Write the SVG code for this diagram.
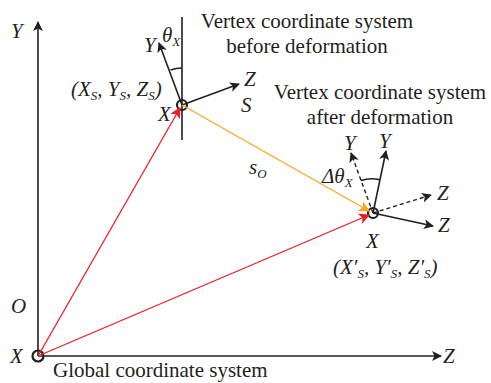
<svg xmlns="http://www.w3.org/2000/svg" width="491" height="383" viewBox="0 0 491 383">
<style>
text{font-family:"Liberation Serif","Times New Roman",serif;fill:#231f20}
.t{font-size:21px}
.i{font-style:italic;font-size:21px}
.s{font-size:13px;font-style:italic}
.ax{stroke:#231f20;stroke-width:1.6;fill:none}
.da{stroke:#231f20;stroke-width:1.4;fill:none;stroke-dasharray:4 3}
.red{stroke:#ee1c25;stroke-width:1.3;fill:none}
.org{stroke:#f7a823;stroke-width:1.3;fill:none}
</style>
<defs>
<marker id="ak" viewBox="0 0 10 10" refX="9" refY="5" markerWidth="10" markerHeight="10" markerUnits="userSpaceOnUse" orient="auto"><path d="M0,0 L10,5 L0,10 L2.5,5 Z" fill="#231f20"/></marker>
<marker id="ar" viewBox="0 0 10 10" refX="9" refY="5" markerWidth="11" markerHeight="11" markerUnits="userSpaceOnUse" orient="auto"><path d="M0,0 L10,5 L0,10 L2.5,5 Z" fill="#ee1c25"/></marker>
<marker id="ao" viewBox="0 0 10 10" refX="9" refY="5" markerWidth="11" markerHeight="11" markerUnits="userSpaceOnUse" orient="auto"><path d="M0,0 L10,5 L0,10 L2.5,5 Z" fill="#f7a823"/></marker>
</defs>
<g id="global">
<line class="ax" x1="38" y1="356" x2="38" y2="22" marker-end="url(#ak)"/>
<line class="ax" x1="38" y1="356" x2="441" y2="356" marker-end="url(#ak)"/>
<circle cx="38" cy="356" r="5.5" fill="none" stroke="#231f20" stroke-width="2.2"/>
<text class="i" x="11" y="38">Y</text>
<text class="i" x="11" y="313">O</text>
<text class="i" x="10" y="363">X</text>
<text class="i" x="443" y="363">Z</text>
<text class="t" x="53" y="377">Global coordinate system</text>
</g>
<g id="vertex1">
<line class="ax" x1="182" y1="17" x2="182" y2="140"/>
<line class="ax" x1="182" y1="105" x2="159" y2="43" marker-end="url(#ak)"/>
<line class="ax" x1="182" y1="105" x2="239" y2="84" marker-end="url(#ak)"/>
<path class="ax" d="M170.5,70 A37,37 0 0 1 182,68" stroke-width="1"/>
<circle cx="182" cy="105" r="5" fill="none" stroke="#231f20" stroke-width="2.2"/>
<text class="i" x="144" y="52">Y</text>
<text class="i" x="162" y="42">θ<tspan class="s" dy="4">X</tspan></text>
<text class="i" x="244" y="86">Z</text>
<text class="i" x="241" y="112">S</text>
<text class="i" x="158" y="121">X</text>
<text class="i" x="71" y="96">(X<tspan class="s" dy="4">S</tspan><tspan dy="-4">, Y</tspan><tspan class="s" dy="4">S</tspan><tspan dy="-4">, Z</tspan><tspan class="s" dy="4">S</tspan><tspan dy="-4">)</tspan></text>
<text class="t" x="307" y="28" text-anchor="middle">Vertex coordinate system</text>
<text class="t" x="307" y="53" text-anchor="middle">before deformation</text>
</g>
<g id="vertex2">
<line class="ax" x1="373" y1="213" x2="386" y2="151" marker-end="url(#ak)"/>
<line class="da" x1="373" y1="213" x2="351" y2="153" marker-end="url(#ak)"/>
<line class="da" x1="373" y1="213" x2="431" y2="195" marker-end="url(#ak)"/>
<line class="ax" x1="373" y1="213" x2="433" y2="226" marker-end="url(#ak)"/>
<path class="ax" d="M361,180.5 A34,34 0 0 1 379.5,179.6" stroke-width="1"/>
<circle cx="373" cy="213" r="5" fill="none" stroke="#231f20" stroke-width="2.2"/>
<text class="i" x="344" y="150">Y</text>
<text class="i" x="379" y="148">Y</text>
<text class="i" x="437" y="200">Z</text>
<text class="i" x="438" y="232">Z</text>
<text class="i" x="366" y="248">X</text>
<text class="i" x="322" y="183">Δθ<tspan class="s" dy="4">X</tspan></text>
<text class="i" x="333" y="274">(X′<tspan class="s" dy="4">S</tspan><tspan dy="-4">, Y′</tspan><tspan class="s" dy="4">S</tspan><tspan dy="-4">, Z′</tspan><tspan class="s" dy="4">S</tspan><tspan dy="-4">)</tspan></text>
<text class="t" x="380" y="99" text-anchor="middle">Vertex coordinate system</text>
<text class="t" x="380" y="124" text-anchor="middle">after deformation</text>
</g>
<g id="connectors">
<line class="red" x1="38" y1="356" x2="180" y2="108" marker-end="url(#ar)"/>
<line class="red" x1="38" y1="356" x2="369" y2="215" marker-end="url(#ar)"/>
<line class="org" x1="182" y1="105" x2="369" y2="211" marker-end="url(#ao)"/>
<text class="i" x="249" y="174">s<tspan class="s" dy="4">O</tspan></text>
</g>
</svg>
